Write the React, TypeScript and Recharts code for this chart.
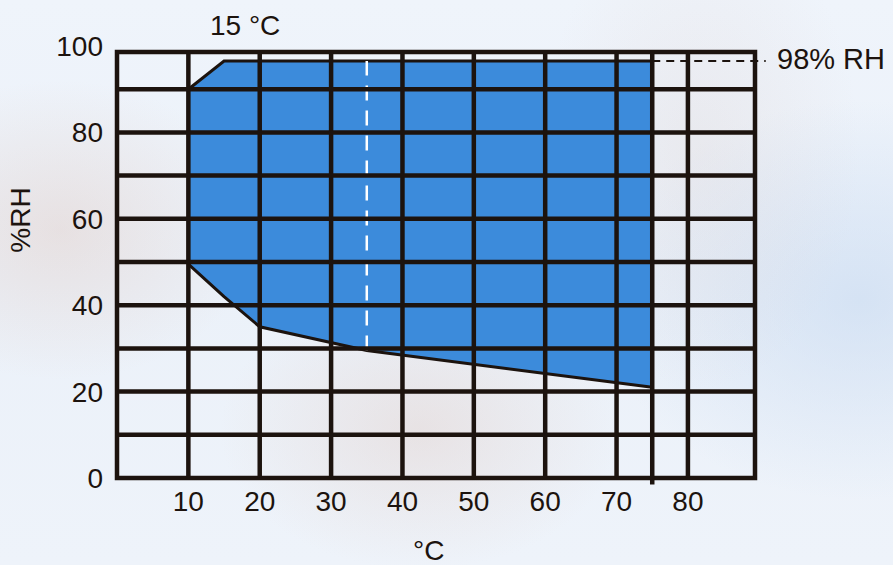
import {
  Area,
  ComposedChart,
  ReferenceArea,
  ReferenceLine,
  XAxis,
  YAxis,
} from "recharts";

// operating envelope of the climate chamber
const tempC = [10, 15, 20, 35, 75];
const rhLow = [49.5, 42, 35, 29.5, 21];
const rhHigh = [90, 96.5, 96.5, 96.5, 96.5];

const xTicks = [10, 20, 30, 40, 50, 60, 70, 80];
const yTicks = [0, 20, 40, 60, 80, 100];
const gridX = [10, 20, 30, 40, 50, 60, 70, 80];
const gridY = [10, 20, 30, 40, 50, 60, 70, 80, 90];

const X_MAX = 89.4;
const Y_TOP = 98.6;
const T_LIMIT = 75;
const T_MARK = 35;
const RH_MAX = 96.5;

const data = tempC.map((t, i) => ({ t, rh: [rhLow[i], rhHigh[i]] }));

const INK = "#1c130e";
const BLUE = "#3c8bdb";
const FONT = "'Liberation Sans', Arial, Helvetica, sans-serif";

const tick = { fill: INK, fontSize: 28, fontFamily: FONT };

const txt: React.CSSProperties = {
  position: "absolute",
  color: INK,
  fontFamily: FONT,
  fontSize: 28,
  lineHeight: 1,
  whiteSpace: "nowrap",
};

export default function App() {
  return (
    <div
      style={{
        position: "absolute",
        left: 0,
        top: 0,
        width: 893,
        height: 565,
        overflow: "hidden",
        background:
          "radial-gradient(ellipse 200px 150px at 60px 230px, rgba(220,185,170,0.3), transparent)," +
          "radial-gradient(ellipse 200px 140px at 420px 430px, rgba(220,190,178,0.3), transparent)," +
          "radial-gradient(ellipse 160px 240px at 700px 150px, rgba(215,195,190,0.2), transparent)," +
          "radial-gradient(ellipse 260px 200px at 860px 300px, rgba(195,215,240,0.55), transparent)," +
          "linear-gradient(180deg, #eff4fb 0%, #ebf1f9 50%, #eef3fa 100%)",
      }}
    >
      <ComposedChart
        width={893}
        height={565}
        data={data}
        margin={{ top: 46, right: 138, bottom: 57, left: 57 }}
      >
        <XAxis
          type="number"
          dataKey="t"
          domain={[0, X_MAX]}
          ticks={xTicks}
          axisLine={false}
          tickLine={false}
          tickMargin={7}
          height={30}
          tick={tick}
          allowDataOverflow
        />
        <YAxis
          type="number"
          domain={[0, 100]}
          ticks={yTicks}
          axisLine={false}
          tickLine={false}
          tickMargin={8}
          width={60}
          tick={tick}
        />
        <Area
          type="linear"
          dataKey="rh"
          fill={BLUE}
          fillOpacity={1}
          stroke={INK}
          strokeWidth={3}
          isAnimationActive={false}
        />
        <ReferenceLine
          segment={[
            { x: T_MARK, y: 29.5 },
            { x: T_MARK, y: RH_MAX },
          ]}
          stroke="#ffffff"
          strokeWidth={2.5}
          strokeDasharray="15 10"
          ifOverflow="visible"
        />
        {gridX.map((x) => (
          <ReferenceLine
            key={"x" + x}
            segment={[
              { x, y: 0 },
              { x, y: Y_TOP },
            ]}
            stroke={INK}
            strokeWidth={4.5}
          />
        ))}
        {gridY.map((y) => (
          <ReferenceLine key={"y" + y} y={y} stroke={INK} strokeWidth={4.5} />
        ))}
        <ReferenceLine
          segment={[
            { x: T_LIMIT, y: -1.5 },
            { x: T_LIMIT, y: Y_TOP },
          ]}
          stroke={INK}
          strokeWidth={4.5}
          ifOverflow="visible"
        />
        <ReferenceLine
          segment={[
            { x: T_LIMIT, y: RH_MAX },
            { x: 90.9, y: RH_MAX },
          ]}
          stroke={INK}
          strokeWidth={2}
          strokeDasharray="8 6"
          ifOverflow="visible"
        />
        <ReferenceArea
          x1={0}
          x2={X_MAX}
          y1={0}
          y2={Y_TOP}
          fill="none"
          stroke={INK}
          strokeWidth={4.5}
          ifOverflow="visible"
        />
      </ComposedChart>
      <div style={{ ...txt, left: 210, top: 12 }}>15 °C</div>
      <div style={{ ...txt, left: 777, top: 45, fontSize: 29 }}>98% RH</div>
      <div style={{ ...txt, left: 413, top: 537 }}>°C</div>
      <div
        style={{
          ...txt,
          left: 21,
          top: 220,
          transform: "translate(-50%, -50%) rotate(-90deg)",
        }}
      >
        %RH
      </div>
    </div>
  );
}
